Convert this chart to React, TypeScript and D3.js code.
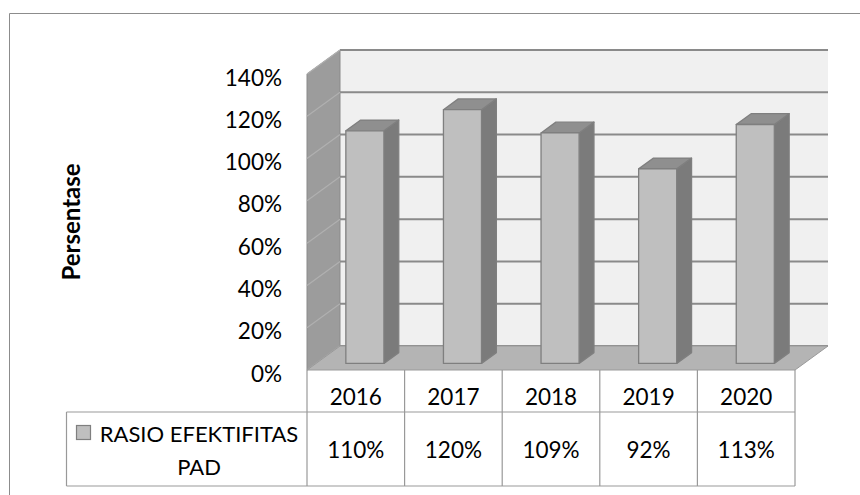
import React from "react";
import * as d3 from "d3";

const years = ["2016", "2017", "2018", "2019", "2020"];
const values = [110, 120, 109, 92, 113];
const valueLabels = ["110%", "120%", "109%", "92%", "113%"];
const ticks = [0, 20, 40, 60, 80, 100, 120, 140];
const seriesName = ["RASIO EFEKTIFITAS", "PAD"];
const axisTitle = "Persentase";

const W = 860;
const H = 495;
const FONT = "Lato, 'Open Sans', sans-serif";

export default function App() {
  const x0 = 307;
  const x1 = 795;
  const dx = 33;
  const dy = 24;
  const x = d3.scaleBand<string>().domain(years).range([x0, x1]).padding(0);
  const y = d3.scaleLinear().domain([0, 140]).range([370, 74]);
  const bw = x.bandwidth();
  const barW = bw * 0.39;
  const d0 = 0.275;
  const d1 = 0.725;

  const P = (px: number, py: number, d: number) => [px + d * dx, py - d * dy];
  const poly = (pts: number[][]) => pts.map((p) => p.join(",")).join(" ");

  const yBottom = y(0);
  const tableTop = yBottom;
  const rowDiv = 412;
  const tableBottom = 486;
  const tableLeft = 66.5;

  return (
    <svg
      width={W}
      height={H}
      style={{ position: "absolute", left: 0, top: 0, background: "#fff" }}
      fontFamily={FONT}
    >
      {/* outer frame */}
      <line x1={9.5} y1={13.5} x2={W} y2={13.5} stroke="#8c8c8c" strokeWidth={1} />
      <line x1={9.5} y1={13.5} x2={9.5} y2={H} stroke="#8c8c8c" strokeWidth={1} />

      {/* back wall */}
      <polygon
        points={poly([P(x0, y(140), 1), P(x1, y(140), 1), P(x1, y(0), 1), P(x0, y(0), 1)])}
        fill="#f0f0f0"
      />
      {ticks.map((t) => {
        const a = P(x0, y(t), 1);
        const b = P(x1, y(t), 1);
        return (
          <line key={"g" + t} x1={a[0]} y1={a[1]} x2={b[0]} y2={b[1]} stroke="#8a8a8a" strokeWidth={2} />
        );
      })}
      {/* side wall */}
      <polygon
        points={poly([P(x0, y(140), 0), P(x0, y(140), 1), P(x0, y(0), 1), P(x0, y(0), 0)])}
        fill="#9c9c9c"
        stroke="#8a8a8a"
        strokeWidth={1}
      />
      {ticks.map((t) => {
        const a = P(x0, y(t), 0);
        const b = P(x0, y(t), 1);
        return (
          <line key={"s" + t} x1={a[0]} y1={a[1]} x2={b[0]} y2={b[1]} stroke="#b0b0b0" strokeWidth={1.2} />
        );
      })}
      {/* floor */}
      <polygon
        points={poly([P(x0, yBottom, 0), P(x1, yBottom, 0), P(x1, yBottom, 1), P(x0, yBottom, 1)])}
        fill="#b4b4b4"
        stroke="#9a9a9a"
        strokeWidth={1}
      />

      {/* bars */}
      {years.map((yr, i) => {
        const left = (x(yr) as number) + (bw - barW) / 2;
        const right = left + barW;
        const top = y(values[i]);
        const fTL = P(left, top, d0);
        const fTR = P(right, top, d0);
        const fBR = P(right, yBottom, d0);
        const fBL = P(left, yBottom, d0);
        const bTL = P(left, top, d1);
        const bTR = P(right, top, d1);
        const bBR = P(right, yBottom, d1);
        return (
          <g key={yr} stroke="#7f7f7f" strokeWidth={1.3} strokeLinejoin="round">
            <polygon points={poly([fTR, bTR, bBR, fBR])} fill="#7b7b7b" />
            <polygon points={poly([fTL, bTL, bTR, fTR])} fill="#8f8f8f" />
            <polygon points={poly([fTL, fTR, fBR, fBL])} fill="#bfbfbf" />
          </g>
        );
      })}

      {/* y tick labels */}
      {ticks.map((t) => (
        <text
          key={"t" + t}
          x={282}
          y={y(t) + 3}
          textAnchor="end"
          dominantBaseline="central"
          fontSize={22.5}
          fill="#000"
        >
          {t + "%"}
        </text>
      ))}

      {/* axis title */}
      <text
        transform={`translate(70,222) rotate(-90)`}
        textAnchor="middle"
        dominantBaseline="central"
        fontSize={24}
        fontWeight="bold"
        fill="#000"
      >
        {axisTitle}
      </text>

      {/* data table */}
      <g stroke="#999" strokeWidth={1.2} fill="none">
        <line x1={tableLeft} y1={rowDiv} x2={x1} y2={rowDiv} />
        <line x1={tableLeft} y1={tableBottom} x2={x1} y2={tableBottom} />
        <line x1={tableLeft} y1={rowDiv} x2={tableLeft} y2={tableBottom} />
        {years.map((yr) => (
          <line key={"v" + yr} x1={x(yr) as number} y1={tableTop} x2={x(yr) as number} y2={tableBottom} />
        ))}
        <line x1={x1} y1={tableTop} x2={x1} y2={tableBottom} />
      </g>
      {years.map((yr) => (
        <text
          key={"y" + yr}
          x={(x(yr) as number) + bw / 2}
          y={396}
          textAnchor="middle"
          dominantBaseline="central"
          fontSize={22.5}
          fill="#000"
        >
          {yr}
        </text>
      ))}
      {years.map((yr, i) => (
        <text
          key={"val" + yr}
          x={(x(yr) as number) + bw / 2}
          y={449}
          textAnchor="middle"
          dominantBaseline="central"
          fontSize={22.5}
          fill="#000"
        >
          {valueLabels[i]}
        </text>
      ))}
      <rect x={76.5} y={425.5} width={14} height={14} fill="#bfbfbf" stroke="#7f7f7f" strokeWidth={1.2} />
      <text x={199} y={433} textAnchor="middle" dominantBaseline="central" fontSize={22} fill="#000">
        {seriesName[0]}
      </text>
      <text x={199} y={466} textAnchor="middle" dominantBaseline="central" fontSize={22} fill="#000">
        {seriesName[1]}
      </text>
    </svg>
  );
}
